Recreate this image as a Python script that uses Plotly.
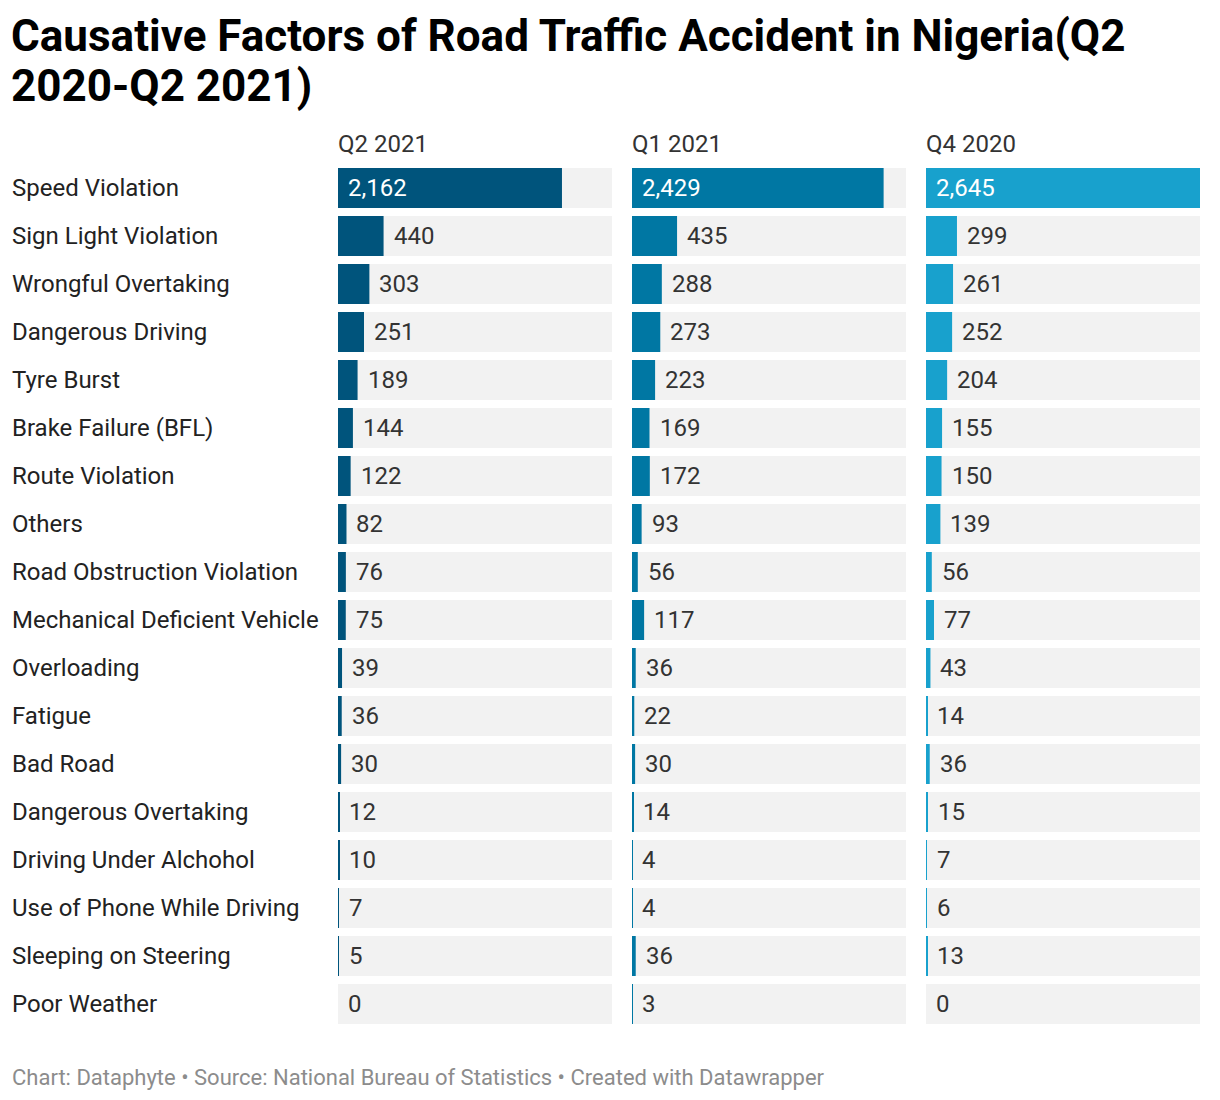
import plotly.graph_objects as go

factors = ["Speed Violation", "Sign Light Violation", "Wrongful Overtaking", "Dangerous Driving",
           "Tyre Burst", "Brake Failure (BFL)", "Route Violation", "Others",
           "Road Obstruction Violation", "Mechanical Deficient Vehicle", "Overloading", "Fatigue",
           "Bad Road", "Dangerous Overtaking", "Driving Under Alchohol", "Use of Phone While Driving",
           "Sleeping on Steering", "Poor Weather"]
quarters = ["Q2 2021", "Q1 2021", "Q4 2020"]
q2_2021 = [2162, 440, 303, 251, 189, 144, 122, 82, 76, 75, 39, 36, 30, 12, 10, 7, 5, 0]
q1_2021 = [2429, 435, 288, 273, 223, 169, 172, 93, 56, 117, 36, 22, 30, 14, 4, 4, 36, 3]
q4_2020 = [2645, 299, 261, 252, 204, 155, 150, 139, 56, 77, 43, 14, 36, 15, 7, 6, 13, 0]
series = [q2_2021, q1_2021, q4_2020]
colors = ["#00547c", "#0077a3", "#18a1cd"]

title_line1 = "Causative Factors of Road Traffic Accident in Nigeria(Q2"
title_line2 = "2020-Q2 2021)"
footer = "Chart: Dataphyte • Source: National Bureau of Statistics • Created with Datawrapper"

# page offset (body margin) and figure size
OFF = 8
W, H = 1220 - OFF, 1100 - OFF
FONT = "Roboto"
PAD = 2  # annotation box padding

def px_x(x):
    return (x - OFF - PAD) / W

def px_y(y):
    return 1 - (y - OFF) / H

def ax_x(x):
    return (x - OFF) / W

vmax = max(max(s) for s in series)
col_left = [338, 632, 926]
col_width = 274

fig = go.Figure()
annotations = []
layout_axes = {}

for i, (name, vals, col) in enumerate(zip(quarters, series, colors)):
    xa = "x" if i == 0 else f"x{i+1}"
    key = "xaxis" if i == 0 else f"xaxis{i+1}"
    fig.add_trace(go.Bar(x=[vmax] * len(factors), y=factors, orientation="h",
                         marker=dict(color="#f2f2f2", line=dict(width=0)),
                         xaxis=xa, yaxis="y", hoverinfo="skip", showlegend=False))
    fig.add_trace(go.Bar(x=vals, y=factors, orientation="h", name=name,
                         marker=dict(color=col, line=dict(width=0)),
                         xaxis=xa, yaxis="y", showlegend=False))
    layout_axes[key] = dict(domain=[ax_x(col_left[i]), ax_x(col_left[i] + col_width)],
                            range=[0, vmax], visible=False, fixedrange=True, anchor="y")
    # column header
    annotations.append(dict(text=name, xref="paper", yref="paper",
                            x=px_x(col_left[i]), y=px_y(144), xanchor="left", yanchor="middle",
                            showarrow=False, font=dict(family=FONT, size=24, color="#333333")))
    for f, v in zip(factors, vals):
        inside = v / vmax * col_width > 100
        annotations.append(dict(text=f"{v:,}", xref=xa, yref="y",
                                x=0 if inside else v, y=f, xshift=10 - PAD,
                                xanchor="left", yanchor="middle", showarrow=False,
                                font=dict(family=FONT, size=24,
                                          color="#ffffff" if inside else "#333333")))

for f in factors:
    annotations.append(dict(text=f, xref="paper", yref="y", x=px_x(12), y=f,
                            xanchor="left", yanchor="middle", showarrow=False,
                            font=dict(family=FONT, size=24, color="#222222")))

annotations.append(dict(text=f"<b>{title_line1}</b>", xref="paper", yref="paper",
                        x=px_x(11), y=px_y(36), xanchor="left", yanchor="middle",
                        showarrow=False, font=dict(family=FONT, size=44, color="#000000")))
annotations.append(dict(text=f"<b>{title_line2}</b>", xref="paper", yref="paper",
                        x=px_x(11), y=px_y(86), xanchor="left", yanchor="middle",
                        showarrow=False, font=dict(family=FONT, size=44, color="#000000")))
annotations.append(dict(text=footer, xref="paper", yref="paper",
                        x=px_x(12), y=px_y(1077), xanchor="left", yanchor="middle",
                        showarrow=False, font=dict(family=FONT, size=22, color="#8c8c8c")))

n = len(factors)
fig.update_layout(
    width=W, height=H,
    margin=dict(l=0, r=0, t=0, b=0),
    paper_bgcolor="#ffffff", plot_bgcolor="rgba(0,0,0,0)",
    barmode="overlay", bargap=8 / 48,
    yaxis=dict(domain=[px_y(188 + 48 * (n - 1) + 24), px_y(188 - 24)],
               type="category", categoryorder="array", categoryarray=factors,
               range=[n - 0.5, -0.5], visible=False, fixedrange=True),
    annotations=annotations,
    **layout_axes,
)

fig.write_html("out.html")
